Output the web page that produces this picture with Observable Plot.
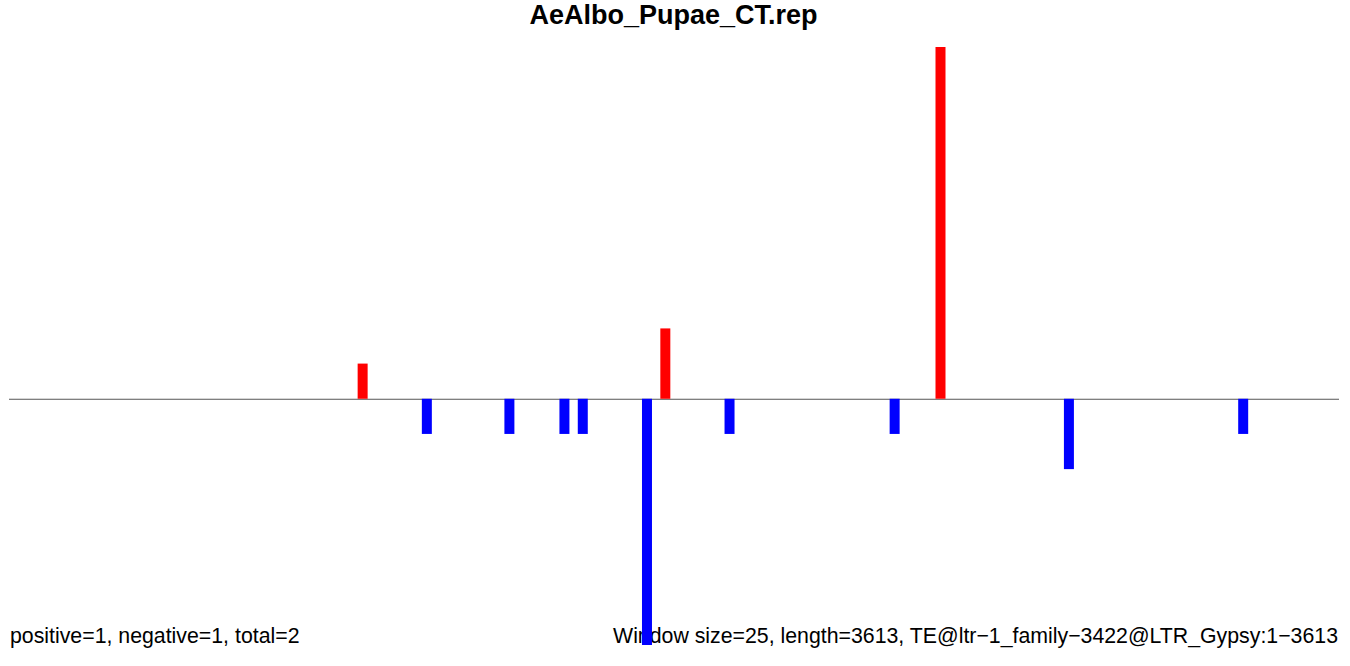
<!DOCTYPE html>
<html>
<head>
<meta charset="utf-8">
<script src="https://cdn.jsdelivr.net/npm/d3@7"></script>
<script src="https://cdn.jsdelivr.net/npm/@observablehq/plot@0.6"></script>
<style>
  html, body { margin: 0; padding: 0; background: white; }
  #wrap { position: relative; width: 1350px; height: 666px; overflow: hidden; font-family: "Liberation Sans", Arial, sans-serif; }
  #title { height: 31px; line-height: 31px; font-size: 27px; font-weight: bold; text-align: center; color: #000; padding-right: 3px; }
  .foot { position: absolute; top: 624px; font-size: 21.3px; line-height: 24px; color: #000; white-space: nowrap; z-index: 0; }
  #chart { position: relative; z-index: 1; }
</style>
</head>
<body>
<div id="wrap">
  <div id="title">AeAlbo_Pupae_CT.rep</div>
  <div class="foot" style="left:10px">positive=1, negative=1, total=2</div>
  <div class="foot" style="right:12px">Window size=25, length=3613, TE@ltr−1_family−3422@LTR_Gypsy:1−3613</div>
  <div id="chart"></div>
</div>
<script>
// Data
const windowSize = 25;
const seqLength = 3613;
const windowIndex = [38, 45, 54, 60, 62, 69, 71, 78, 96, 101, 115, 134];
const counts      = [1, -1, -1, -1, -1, -7, 2, -1, -1, 10, -2, -1];

const nWindows = Math.ceil(seqLength / windowSize);
const rows = windowIndex.map((w, i) => ({ x: w + 0.5, v: counts[i] }));

const chart = Plot.plot({
  width: 1350,
  height: 635,
  marginLeft: 9,
  marginRight: 11,
  marginTop: 16,
  marginBottom: 21,
  style: { background: "transparent", overflow: "visible" },
  x: { domain: [0, nWindows], axis: null },
  y: { domain: [-7, 10], axis: null },
  marks: [
    Plot.ruleY([0], { stroke: "#555555", strokeWidth: 1 }),
    Plot.ruleX(rows, {
      x: "x",
      y1: 0,
      y2: "v",
      stroke: d => d.v > 0 ? "#FF0000" : "#0000FF",
      strokeWidth: 10
    })
  ]
});
document.getElementById("chart").appendChild(chart);
</script>
</body>
</html>
